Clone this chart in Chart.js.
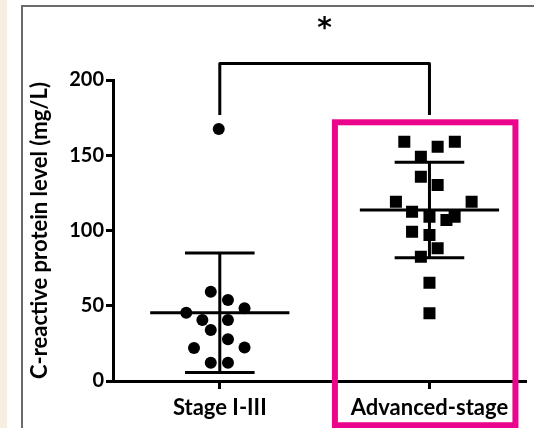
<!DOCTYPE html>
<html><head><meta charset="utf-8">
<script src="https://cdn.jsdelivr.net/npm/chart.js@4"></script>
<style>
html,body{margin:0;padding:0;background:#fff;}
#wrap{position:relative;width:534px;height:428px;overflow:hidden;background:#fff;}
#strip{position:absolute;left:0;top:0;width:7px;height:428px;background:#f7eee2;}
#frame{position:absolute;left:21px;top:5px;width:530px;height:440px;border-left:2px solid #6b6b6b;border-top:2px solid #6b6b6b;}
#box{position:absolute;left:0;top:0;width:534px;height:428px;}
</style></head>
<body>
<div id="wrap"><div id="strip"></div><div id="frame"></div><div id="box"><canvas id="c"></canvas></div></div>
<script>
// ---- data ----
const categories = ['Stage I-III', 'Advanced-stage'];
const yTicks = [0, 50, 100, 150, 200];
// Stage I-III individual values (x = jittered category position)
const stageX = [0.957, 1.039, 1.118, 0.840, 0.917, 1.039, 0.957, 1.039, 0.877, 1.118, 0.957, 1.039, 0.995];
const stageY = [59.3, 53.8, 48.3, 45.4, 40.5, 40.5, 33.9, 27.7, 21.9, 22.3, 12.2, 12.2, 167.4];
// Advanced-stage individual values
const advX = [1.880, 2.039, 2.121, 1.959, 1.959, 2.039, 1.840, 2.201, 1.917, 2.000, 2.120, 2.081, 1.917, 2.000, 2.039, 1.959, 2.000, 2.000];
const advY = [159.0, 155.7, 159.0, 149.0, 135.7, 130.2, 119.1, 119.1, 112.5, 109.2, 109.2, 107.0, 99.2, 97.0, 88.2, 82.6, 65.3, 45.0];
// group summaries (mean ± SD)
const means = [45.4, 113.6];
const sds = [39.7, 31.7];
// significance bracket
const sigLabel = '*';
const bracketTop = 211;
const bracketLegBottom = 176.7;

const FONT = 'Lato, "Open Sans", sans-serif';

const decor = {
  id: 'decor',
  afterDraw(chart) {
    const {ctx, scales: {x, y}} = chart;
    ctx.save();
    ctx.strokeStyle = '#000';
    ctx.lineWidth = 3;
    ctx.lineCap = 'butt';
    const meanHalf = 0.332, capHalf = 0.166;
    categories.forEach((c, i) => {
      const cx = i + 1;
      const m = means[i], s = sds[i];
      ctx.beginPath();
      ctx.moveTo(x.getPixelForValue(cx - meanHalf), y.getPixelForValue(m));
      ctx.lineTo(x.getPixelForValue(cx + meanHalf), y.getPixelForValue(m));
      ctx.moveTo(x.getPixelForValue(cx), y.getPixelForValue(m + s));
      ctx.lineTo(x.getPixelForValue(cx), y.getPixelForValue(m - s));
      ctx.moveTo(x.getPixelForValue(cx - capHalf), y.getPixelForValue(m + s));
      ctx.lineTo(x.getPixelForValue(cx + capHalf), y.getPixelForValue(m + s));
      ctx.moveTo(x.getPixelForValue(cx - capHalf), y.getPixelForValue(m - s));
      ctx.lineTo(x.getPixelForValue(cx + capHalf), y.getPixelForValue(m - s));
      ctx.stroke();
    });
    // bracket
    ctx.lineJoin = 'round';
    ctx.beginPath();
    ctx.moveTo(x.getPixelForValue(1), y.getPixelForValue(bracketLegBottom));
    ctx.lineTo(x.getPixelForValue(1), y.getPixelForValue(bracketTop));
    ctx.lineTo(x.getPixelForValue(2), y.getPixelForValue(bracketTop));
    ctx.lineTo(x.getPixelForValue(2), y.getPixelForValue(bracketLegBottom));
    ctx.stroke();
    // asterisk
    ctx.fillStyle = '#000';
    ctx.font = 'bold 28px "DejaVu Sans", sans-serif';
    ctx.textAlign = 'center';
    ctx.textBaseline = 'alphabetic';
    ctx.fillText(sigLabel, x.getPixelForValue(1.5), y.getPixelForValue(238.5) + 15);
    // highlight box
    ctx.strokeStyle = '#ea058c';
    ctx.lineWidth = 6;
    const x0 = x.getPixelForValue(1.549), x1 = x.getPixelForValue(2.41);
    const y0 = y.getPixelForValue(171.9), y1 = y.getPixelForValue(-29.4);
    ctx.lineJoin = 'miter';
    ctx.strokeRect(x0, y0, x1 - x0, y1 - y0);
    ctx.restore();
  }
};

new Chart(document.getElementById('c'), {
  type: 'scatter',
  data: {
    datasets: [
      { label: categories[0], data: stageX.map((v, i) => ({x: v, y: stageY[i]})),
        pointStyle: 'circle', pointRadius: 6, pointHoverRadius: 6,
        backgroundColor: '#000', borderColor: '#000', borderWidth: 0 },
      { label: categories[1], data: advX.map((v, i) => ({x: v, y: advY[i]})),
        pointStyle: 'rect', pointRadius: 8.5, pointHoverRadius: 8.5,
        backgroundColor: '#000', borderColor: '#000', borderWidth: 0 }
    ]
  },
  options: {
    responsive: true,
    maintainAspectRatio: false,
    animation: false,
    events: [],
    layout: { padding: { top: 80, left: 0, right: 0, bottom: 0 } },
    plugins: { legend: { display: false }, tooltip: { enabled: false } },
    scales: {
      x: {
        type: 'linear',
        min: 0.4907, max: 2.458,
        afterBuildTicks: s => { s.ticks = categories.map((c, i) => ({value: i + 1})); },
        afterFit: s => { s.height = 47; },
        ticks: {
          autoSkip: false, color: '#000', padding: 6, maxRotation: 0,
          font: { family: FONT, size: 22, weight: 'bold' },
          callback: v => categories[Math.round(v) - 1]
        },
        grid: { drawOnChartArea: false, drawTicks: true, tickLength: 8, lineWidth: 3, color: '#000' },
        border: { display: true, width: 3, color: '#000' }
      },
      y: {
        min: 0, max: 200,
        afterBuildTicks: s => { s.ticks = yTicks.map(v => ({value: v})); },
        afterFit: s => { s.width = 113; },
        ticks: {
          color: '#000', padding: 2,
          font: { family: FONT, size: 20, weight: 'bold' }
        },
        grid: { drawOnChartArea: false, drawTicks: true, tickLength: 7, lineWidth: 3, color: '#000' },
        border: { display: true, width: 3, color: '#000' },
        title: {
          display: true, text: 'C-reactive protein level (mg/L)', color: '#000',
          font: { family: FONT, size: 22, weight: 'bold' },
          padding: { top: 26.8, bottom: 0 }
        }
      }
    }
  },
  plugins: [decor]
});
</script>
</body></html>
